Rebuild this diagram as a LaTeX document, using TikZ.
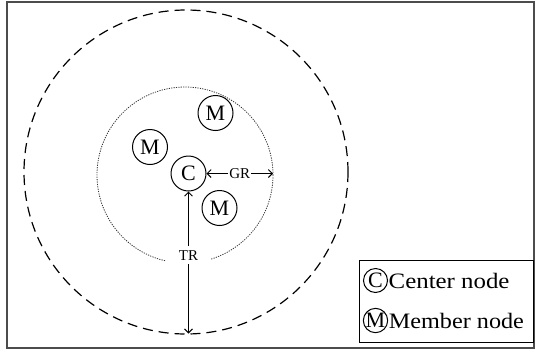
\documentclass[tikz,border=0pt]{standalone}
\usepackage{fontspec}
\setmainfont{Liberation Serif}
\usetikzlibrary{arrows.meta}
\tikzset{
  nd/.style={circle,draw,line width=1bp,inner sep=0pt,minimum size=35bp,font=\fontsize{22bp}{22bp}\selectfont},
  lg/.style={circle,draw,line width=1bp,inner sep=0pt,minimum size=24bp,font=\fontsize{22bp}{22bp}\selectfont},
  lgtext/.style={anchor=west,inner sep=0pt,font=\fontsize{22bp}{22bp}\selectfont},
  lab/.style={fill=white,inner sep=1bp,font=\fontsize{15bp}{15bp}\selectfont},
  dim/.style={line width=0.9bp,{Straight Barb[length=4bp,width=8bp]}-{Straight Barb[length=4bp,width=8bp]}},
  outerc/.style={line width=1.2bp,dash pattern=on 10bp off 6bp},
  innerc/.style={line width=0.8bp,dash pattern=on 1.2bp off 1.2bp,black!80},
}
\begin{document}
\begin{tikzpicture}[x=1bp,y=-1bp]
\useasboundingbox (0,0) rectangle (535,351);
% frame
\draw[black!70,line width=2bp] (6.5,1.5) rectangle (533.5,347.5);
% circles
\draw[outerc] (186,172) circle[radius=162];
\draw[innerc] (185,175) circle[radius=88];
% nodes
\node[nd] (C) at (188.5,173.5) {C};
\node[nd] (M1) at (215.5,113) {M};
\node[nd] (M2) at (150,147) {M};
\node[nd] (M3) at (219.5,208) {M};
% dimension arrows
\coordinate (gre) at (273,173.5);
\coordinate (trb) at (188.5,333.5);
\draw[dim] (C) -- node[lab] {GR} (gre);
\draw[dim] (C) -- node[lab,pos=0.45,inner xsep=13bp,inner ysep=4bp] {TR} (trb);
% legend
\node[draw,line width=1bp,minimum width=174bp,minimum height=82bp,inner sep=0pt] (leg) at (446,301) {};
\node[lg] (lc) at (375.5,280.5) {C};
\node[lg] (lm) at (375.5,320.5) {M};
\node[lgtext] (tc) at ([xshift=0.5bp]lc.east) {\scalebox{1.13}[1]{Center node}};
\node[lgtext] (tm) at ([xshift=0.5bp]lm.east) {\scalebox{1.1}[1]{Member node}};
\end{tikzpicture}
\end{document}
